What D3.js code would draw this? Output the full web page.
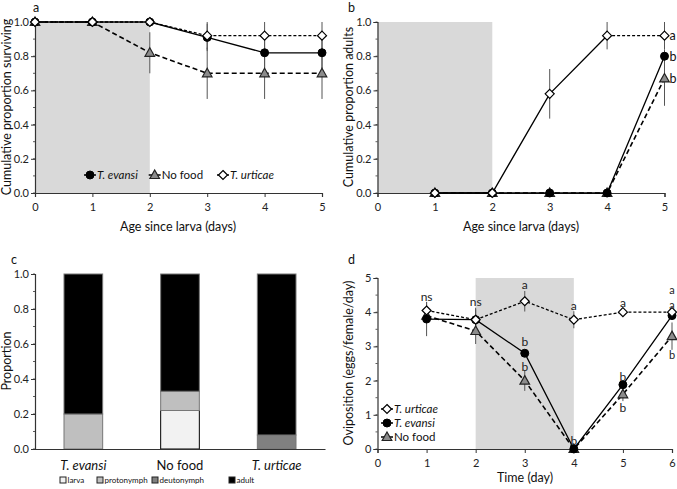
<!DOCTYPE html>
<html><head><meta charset="utf-8">
<script src="https://cdn.jsdelivr.net/npm/d3@7"></script>
<style>body{margin:0;background:#fff}svg{font-family:Lato,"Open Sans",sans-serif}</style>
</head><body>
<svg id="c" width="677" height="489"></svg>
<script>
// ---------- DATA ----------
const ageA = [0,1,2,3,4,5];
const survEvansi = [1,1,1,0.91,0.82,0.82];
const survEvansiErr = [0,0,0,0.08,0.09,0.09];
const survNoFood = [1,1,0.82,0.70,0.70,0.70];
const survNoFoodErr = [0,0,0.12,0.15,0.15,0.15];
const survUrticae = [1,1,1,0.92,0.92,0.92];
const survUrticaeErr = [0,0,0,0.08,0.08,0.08];

const ageB = [1,2,3,4,5];
const adEvansi = [0,0,0,0,0.80];
const adEvansiErr = [0,0,0,0,0.04];
const adNoFood = [0,0,0,0,0.67];
const adNoFoodErr = [0,0,0,0,0.16];
const adUrticae = [0,0,0.58,0.92,0.92];
const adUrticaeErr = [0,0,0.145,0.08,0.08];
const lettersB = [{s:"urticae",t:"a"},{s:"evansi",t:"b"},{s:"nofood",t:"b"}];

const groupsC = ["T. evansi","No food","T. urticae"];
const stagesC = ["larva","protonymph","deutonymph","adult"];
const larvaC = [0,0.22,0];
const protoC = [0.20,0.11,0];
const deutoC = [0,0,0.08];
const adultC = [0.80,0.67,0.92];

const dayD = [1,2,3,4,5,6];
const ovUrticae = [4.05,3.78,4.32,3.78,4.0,4.0];
const ovUrticaeErr = [0.25,0.35,0.3,0.25,0.05,0.05];
const ovEvansi = [3.8,3.78,2.8,0,1.88,3.9];
const ovEvansiErr = [0.5,0.3,0.05,0,0.08,0.1];
const ovNoFood = [3.9,3.45,2.0,0,1.6,3.3];
const ovNoFoodErr = [0.1,0.38,0.3,0,0.2,0.4];
const lettersD = [
 {x:1,y:4.47,t:"ns"},{x:2,y:4.31,t:"ns"},{x:3,y:4.8,t:"a"},{x:3,y:3.13,t:"b"},{x:3,y:2.4,t:"b"},
 {x:4,y:4.21,t:"a"},{x:4,y:0.26,t:"b"},{x:5,y:4.27,t:"a"},{x:5,y:2.13,t:"b"},{x:5,y:1.2,t:"b"},
 {x:6,y:4.66,t:"a"},{x:6,y:4.22,t:"a"},{x:6,y:2.75,t:"b"}];

// ---------- DRAW ----------
const svg = d3.select("#c");
const AX = "#333";
const style = {
  evansi:{dash:null, w:1.3},
  nofood:{dash:"5,3", w:1.6},
  urticae:{dash:"3,2", w:1.3}
};
function marker(g, type, x, y){
  if(type==="evansi") g.append("circle").attr("cx",x).attr("cy",y).attr("r",4).attr("fill","#000").attr("stroke","#000");
  else if(type==="urticae") g.append("path").attr("d",`M${x},${y-4.5}L${x+4.5},${y}L${x},${y+4.5}L${x-4.5},${y}Z`).attr("fill","#fff").attr("stroke","#000").attr("stroke-width",1.2);
  else g.append("path").attr("d",`M${x},${y-5}L${x+4.8},${y+3.5}L${x-4.8},${y+3.5}Z`).attr("fill","#8c8c8c").attr("stroke","#222").attr("stroke-width",1.2);
}
function axes(g, x, y, xt, yt, yfmt, minorStep, xticks){
  const [x0,x1]=x.range(), [y0,y1]=y.range();
  const dm = y.domain();
  for(let v=dm[0]; v<=dm[1]+1e-9; v+=minorStep){
    g.append("line").attr("x1",x0-2).attr("x2",x0).attr("y1",y(v)).attr("y2",y(v)).attr("stroke",AX).attr("stroke-width",0.8);
  }
  const ya = g.append("g").attr("transform",`translate(${x0},0)`).call(d3.axisLeft(y).tickValues(yt).tickFormat(yfmt).tickSize(4).tickPadding(2));
  const xa = g.append("g").attr("transform",`translate(0,${y0})`).call(d3.axisBottom(x).tickValues(xticks?xt:[]).tickFormat(d3.format("d")).tickSize(xticks?4:0).tickPadding(6));
  [ya,xa].forEach(a=>{a.select(".domain").attr("stroke",AX).attr("stroke-width",1.2);
    a.selectAll(".tick line").attr("stroke",AX); a.selectAll("text").attr("font-size",11).attr("fill","#222").attr("font-family","Lato");});
}
function series(g, x, y, xs, ys, type){
  g.append("path").datum(xs.map((v,i)=>[v,ys[i]])).attr("fill","none").attr("stroke","#000")
   .attr("stroke-width",style[type].w).attr("stroke-dasharray",style[type].dash)
   .attr("d",d3.line().x(d=>x(d[0])).y(d=>y(d[1])));
}
function errs(g,x,y,xs,ys,err,top){
  xs.forEach((v,i)=>{ if(!err[i]) return;
    const hi = top!==undefined?Math.min(top,ys[i]+err[i]):ys[i]+err[i];
    g.append("line").attr("x1",x(v)).attr("x2",x(v)).attr("y1",y(ys[i]-err[i])).attr("y2",y(hi)).attr("stroke","#555").attr("stroke-width",1);
  });
}
function points(g,x,y,xs,ys,type){ xs.forEach((v,i)=>marker(g,type,x(v),y(ys[i]))); }
function title(txt,x,y){ svg.append("text").attr("x",x).attr("y",y).attr("font-size",12.5).attr("fill","#111").text(txt); }
function ytitle(txt,x,y){ svg.append("text").attr("transform",`translate(${x},${y}) rotate(-90)`).attr("text-anchor","middle").attr("font-size",12.5).attr("fill","#111").text(txt); }
function xtitle(txt,x,y){ svg.append("text").attr("x",x).attr("y",y).attr("text-anchor","middle").attr("font-size",12.5).attr("fill","#111").text(txt); }
function legendItem(g,type,x,y,label,italic){
  g.append("line").attr("x1",x-6).attr("x2",x+6).attr("y1",y).attr("y2",y).attr("stroke","#000").attr("stroke-width",1.5);
  marker(g,type,x,y);
  g.append("text").attr("x",x+7).attr("y",y+4).attr("font-size",11.5).attr("font-style",italic?"italic":"normal").attr("fill","#111").text(label);
}
const f1 = d3.format(".1f");

// Panel a
{
  const g = svg.append("g");
  const x = d3.scaleLinear().domain([0,5]).range([35,322]);
  const y = d3.scaleLinear().domain([0,1]).range([193,22]);
  g.append("rect").attr("x",x(0)).attr("y",y(1)).attr("width",x(2)-x(0)).attr("height",y(0)-y(1)).attr("fill","#d9d9d9");
  errs(g,x,y,ageA,survNoFood,survNoFoodErr);
  errs(g,x,y,ageA,survEvansi,survEvansiErr,1);
  errs(g,x,y,ageA,survUrticae,survUrticaeErr,1);
  axes(g,x,y,ageA,d3.range(0,1.01,0.2),f1,0.1,true);
  series(g,x,y,ageA,survNoFood,"nofood");
  series(g,x,y,ageA,survEvansi,"evansi");
  series(g,x,y,ageA,survUrticae,"urticae");
  points(g,x,y,ageA,survNoFood,"nofood");
  points(g,x,y,ageA,survEvansi,"evansi");
  points(g,x,y,ageA,survUrticae,"urticae");
  legendItem(g,"evansi",90,175,"T. evansi",true);
  legendItem(g,"nofood",154.7,175,"No food",false);
  legendItem(g,"urticae",223,175,"T. urticae",true);
  title("a",33,12);
  ytitle("Cumulative proportion surviving",11,107);
  xtitle("Age since larva (days)",178,231);
}
// Panel b
{
  const g = svg.append("g");
  const x = d3.scaleLinear().domain([0,5]).range([377.5,664.5]);
  const y = d3.scaleLinear().domain([0,1]).range([193,22]);
  g.append("rect").attr("x",x(0)).attr("y",y(1)).attr("width",x(2)-x(0)).attr("height",y(0)-y(1)).attr("fill","#d9d9d9");
  errs(g,x,y,ageB,adNoFood,adNoFoodErr);
  errs(g,x,y,ageB,adEvansi,adEvansiErr);
  errs(g,x,y,ageB,adUrticae,adUrticaeErr,1);
  axes(g,x,y,[0,1,2,3,4,5],d3.range(0,1.01,0.2),f1,0.1,true);
  series(g,x,y,ageB,adNoFood,"nofood");
  series(g,x,y,ageB,adEvansi,"evansi");
  g.append("path").datum(ageB.slice(0,4).map((v,i)=>[v,adUrticae[i]])).attr("fill","none").attr("stroke","#000").attr("stroke-width",1.3)
    .attr("d",d3.line().x(d=>x(d[0])).y(d=>y(d[1])));
  g.append("path").datum(ageB.slice(3).map((v,i)=>[v,adUrticae[i+3]])).attr("fill","none").attr("stroke","#000").attr("stroke-width",1.3).attr("stroke-dasharray","3,2")
    .attr("d",d3.line().x(d=>x(d[0])).y(d=>y(d[1])));
  points(g,x,y,ageB,adNoFood,"nofood");
  points(g,x,y,ageB,adEvansi,"evansi");
  points(g,x,y,ageB,adUrticae,"urticae");
  const last = {urticae:adUrticae[4],evansi:adEvansi[4],nofood:adNoFood[4]};
  lettersB.forEach(l=>g.append("text").attr("x",x(5)+5).attr("y",y(last[l.s])+4.5).attr("font-size",12.5).attr("fill","#111").text(l.t));
  title("b",348,12);
  ytitle("Cumulative proportion adults",353,107);
  xtitle("Age since larva (days)",521,231);
}
// Panel c
{
  const g = svg.append("g");
  const x = d3.scaleBand().domain(groupsC).range([35,325]).paddingInner(0.6).paddingOuter(0.3);
  const y = d3.scaleLinear().domain([0,1]).range([449,274]);
  const rows = groupsC.map((k,i)=>({g:k,larva:larvaC[i],protonymph:protoC[i],deutonymph:deutoC[i],adult:adultC[i]}));
  const stack = d3.stack().keys(stagesC)(rows);
  const col = d3.scaleOrdinal().domain(stagesC).range(["#f2f2f2","#bfbfbf","#808080","#000"]);
  stack.forEach(layer=>layer.forEach(d=>{
    if(d[1]-d[0]<=0) return;
    g.append("rect").attr("x",x(d.data.g)).attr("width",x.bandwidth()).attr("y",y(d[1])).attr("height",y(d[0])-y(d[1]))
     .attr("fill",col(layer.key)).attr("stroke",layer.key==="larva"?"#000":"#777").attr("stroke-width",1);
  }));
  axes(g,d3.scaleLinear().range([35,325]),y,[],d3.range(0,1.01,0.2),f1,0.1,false);
  groupsC.forEach(k=>g.append("text").attr("x",x(k)+x.bandwidth()/2).attr("y",470).attr("text-anchor","middle")
     .attr("font-size",13).attr("font-style",k==="No food"?"normal":"italic").attr("fill","#111").text(k));
  const lx = [63,100,155,232];
  stagesC.forEach((s,i)=>{
    g.append("rect").attr("x",lx[i]-3).attr("y",477).attr("width",6).attr("height",6).attr("fill",col(s)).attr("stroke","#222").attr("stroke-width",1);
    g.append("text").attr("x",lx[i]+4.5).attr("y",483).attr("font-size",8).attr("fill","#111").text(s);
  });
  title("c",11,264);
  ytitle("Proportion",11,361);
}
// Panel d
{
  const g = svg.append("g");
  const x = d3.scaleLinear().domain([0,6]).range([377.5,672]);
  const y = d3.scaleLinear().domain([0,5]).range([449,278]);
  g.append("rect").attr("x",x(2)).attr("y",y(5)).attr("width",x(4)-x(2)).attr("height",y(0)-y(5)).attr("fill","#d9d9d9");
  errs(g,x,y,dayD,ovNoFood,ovNoFoodErr);
  errs(g,x,y,dayD,ovEvansi,ovEvansiErr);
  errs(g,x,y,dayD,ovUrticae,ovUrticaeErr);
  axes(g,x,y,[0,1,2,3,4,5,6],[0,1,2,3,4,5],d3.format("d"),0.5,true);
  series(g,x,y,dayD,ovNoFood,"nofood");
  series(g,x,y,dayD,ovEvansi,"evansi");
  series(g,x,y,dayD,ovUrticae,"urticae");
  points(g,x,y,dayD,ovNoFood,"nofood");
  points(g,x,y,dayD,ovEvansi,"evansi");
  points(g,x,y,dayD,ovUrticae,"urticae");
  lettersD.forEach(l=>g.append("text").attr("x",x(l.x)).attr("y",y(l.y)+4.5).attr("text-anchor","middle").attr("font-size",l.x===6?11:12).attr("fill","#222").text(l.t));
  legendItem(g,"urticae",387,409,"T. urticae",true);
  legendItem(g,"evansi",387,423,"T. evansi",true);
  legendItem(g,"nofood",387,437,"No food",false);
  title("d",348,264);
  ytitle("Oviposition (eggs/female/day)",353,363);
  xtitle("Time (day)",525,482);
}
</script>
</body></html>
